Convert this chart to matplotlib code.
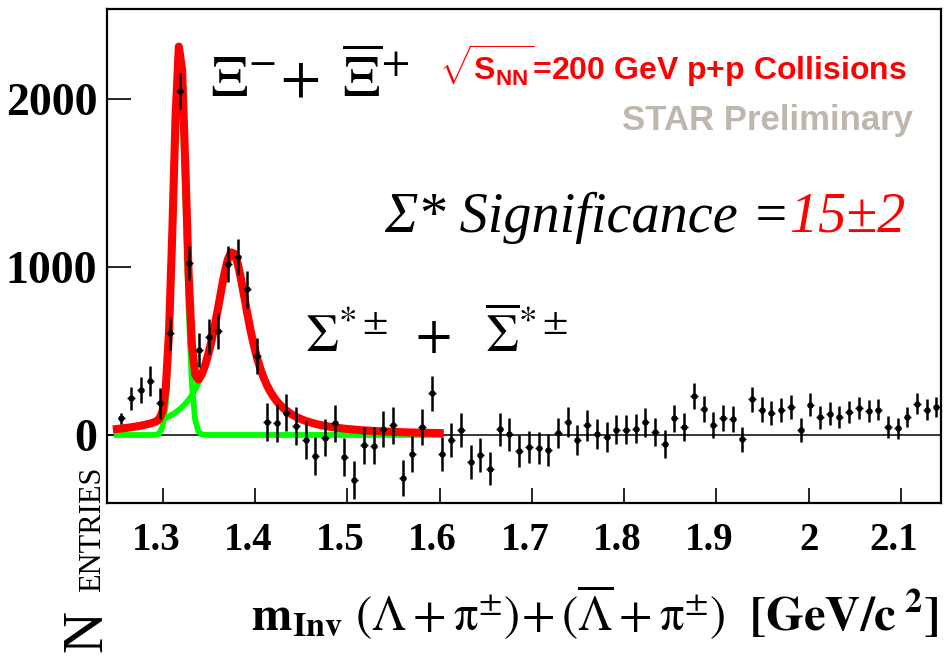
import numpy as np
import matplotlib
matplotlib.use('Agg')
from matplotlib import pyplot as plt
from matplotlib import transforms

plt.rcParams['mathtext.fontset'] = 'custom'
plt.rcParams['mathtext.rm'] = 'Liberation Sans:bold'
plt.rcParams['mathtext.bf'] = 'Liberation Sans:bold'

# Lambda+pi invariant mass, mixed-event background subtracted, p+p 200 GeV
BIN_FIRST = 1.2548   # centre of first bin [GeV/c^2]
BIN_STEP = 0.01052

counts = [99, 218, 268, 323, 188, 605, 2048, 1026, 506, 585,
          621, 1018, 1061, 867, 470, 79, 73, 133, 54, -30,
          -125, -16, 69, -133, -268, -60, -65, 36, 57, -258,
          -115, 48, 248, -114, -30, 30, -161, -119, -200, 35,
          5, -96, -72, -79, -89, 12, 75, -32, 57, 7,
          -12, 32, 32, 38, 75, 19, -55, 99, 48, 233,
          155, 58, 102, 96, -26, 212, 151, 131, 151, 166,
          30, 179, 105, 126, 107, 136, 163, 144, 151, 48,
          40, 107, 187, 151, 165]
errors = [34, 69, 76, 90, 90, 97, 106, 101, 101, 103,
          107, 109, 107, 109, 109, 112, 112, 112, 112, 112,
          112, 112, 112, 112, 112, 110, 110, 108, 108, 108,
          106, 105, 103, 103, 103, 103, 103, 101, 100, 98,
          98, 97, 96, 95, 94, 92, 90, 90, 90, 89,
          88, 88, 87, 86, 85, 84, 83, 82, 81, 79,
          78, 78, 77, 76, 76, 75, 74, 73, 72, 70,
          70, 69, 68, 68, 67, 66, 66, 65, 64, 64,
          63, 62, 61, 61, 60]

# fit: gaussian for the Xi, Breit-Wigner for the Sigma*
XI_AMP, XI_MEAN, XI_SIGMA = 2180.0, 1.3180, 0.0067
SIG_AMP, SIG_MASS, SIG_HWHM = 1090.0, 1.375, 0.023
FIT_LO, FIT_HI, FIT_NPX = 1.25, 1.6, 100

XTICKS = [1.3, 1.4, 1.5, 1.6, 1.7, 1.8, 1.9, 2.0, 2.1]
XTICK_LABELS = ['1.3', '1.4', '1.5', '1.6', '1.7', '1.8', '1.9', '2', '2.1']
YTICKS = [0, 1000, 2000]
YTICK_LABELS = ['0', '1000', '2000']

SERIF = 'Liberation Serif'
SANS = 'Liberation Sans'

xc = BIN_FIRST + BIN_STEP * np.arange(len(counts))
xf = np.linspace(FIT_LO, FIT_HI, FIT_NPX)
gaus = XI_AMP * np.exp(-0.5 * ((xf - XI_MEAN) / XI_SIGMA) ** 2)
bw = SIG_AMP / (1 + ((xf - SIG_MASS) / SIG_HWHM) ** 2)

fig = plt.figure(figsize=(9.44, 6.62), dpi=100)
ax = fig.add_axes([107 / 944, 159 / 662, 834 / 944, 494 / 662])
ax.set_xlim(1.2393, 2.1434)
ax.set_ylim(-405, 2536)

ax.axhline(0, color='black', lw=1.1, zorder=1)
ax.plot(xf, gaus, color='#00ff00', lw=4.2, zorder=2)
ax.plot(xf, bw, color='#00ff00', lw=4.2, zorder=2)
ax.plot(xf, gaus + bw, color='red', lw=5.8, zorder=3)

ax.errorbar(xc, counts, yerr=errors, fmt='none', ecolor='black', elinewidth=1.8, capsize=0, zorder=4)
ax.errorbar(xc, counts, xerr=0.004, fmt='o', color='black', ms=3.5, elinewidth=1.0, capsize=0, zorder=5)

for s in ax.spines.values():
    s.set_linewidth(1.6)
ax.tick_params(axis='x', direction='in', length=11, width=1.2, pad=14)
ax.tick_params(axis='y', direction='in', length=17, width=1.2, pad=7)
ax.set_xticks(XTICKS, labels=XTICK_LABELS, fontsize=28, fontweight='bold', family=SERIF)
ax.set_yticks(YTICKS, labels=YTICK_LABELS, fontsize=33, fontweight='bold', family=SERIF)
# multi-character labels sit a little left of their tick
for lbl in ax.get_xticklabels():
    if len(lbl.get_text()) > 1:
        lbl.set_transform(lbl.get_transform() + transforms.ScaledTranslation(-7 / 100, 0, fig.dpi_scale_trans))

# particle labels
ax.text((210 - 107) / 834, 1 - (95 - 9) / 494, r'$\Xi^{-}\!+\ \overline{\Xi}^{+}$',
        transform=ax.transAxes, fontsize=42, math_fontfamily='stix', ha='left', va='baseline')
ax.text((305 - 107) / 834, 1 - (352 - 9) / 494, r'$\Sigma^{*\pm}\ +\ \ \overline{\Sigma}^{*\pm}$',
        transform=ax.transAxes, fontsize=38, math_fontfamily='stix', ha='left', va='baseline')

ax.text((907 - 107) / 834, 1 - (80 - 9) / 494, r'$\sqrt{\mathbf{S}_{\mathbf{NN}}}$=200 GeV p+p Collisions',
        transform=ax.transAxes, fontsize=23, color='red', family=SANS, fontweight='bold',
        math_fontfamily='custom', ha='right', va='baseline')
ax.text((913 - 107) / 834, 1 - (130 - 9) / 494, 'STAR Preliminary',
        transform=ax.transAxes, fontsize=25, color='#bfb7ad', family=SANS, fontweight='bold',
        ha='right', va='baseline')

red = ax.text((905 - 107) / 834, 1 - (232 - 9) / 494, '15\u00b12', transform=ax.transAxes,
              fontsize=40.5, color='red', family=SERIF, style='italic', ha='right', va='baseline')
ax.annotate('\u03a3* Significance =', xy=(0, 0), xycoords=red, fontsize=40.5, family=SERIF,
            style='italic', color='black', ha='right', va='bottom')

fig.text(938 / 944, 1 - 630 / 662,
         r'$\mathbf{m}_{\mathbf{Inv}}\ (\Lambda + \mathrm{\pi}^{\pm})\!+ (\overline{\Lambda} + \mathrm{\pi}^{\pm})\ \ \mathbf{[GeV/c}^{\ \mathbf{2}}\mathbf{]}$',
         fontsize=35, math_fontfamily='stix', ha='right', va='baseline')
fig.text(113 / 944, 1 - 652 / 662, 'N', rotation=90, fontsize=42, family=SERIF,
         ha='right', va='bottom')
fig.text(107 / 944, 1 - 592 / 662, 'ENTRIES', rotation=90, fontsize=22, family=SERIF,
         ha='right', va='bottom')

fig.savefig('out.png', dpi=100)
